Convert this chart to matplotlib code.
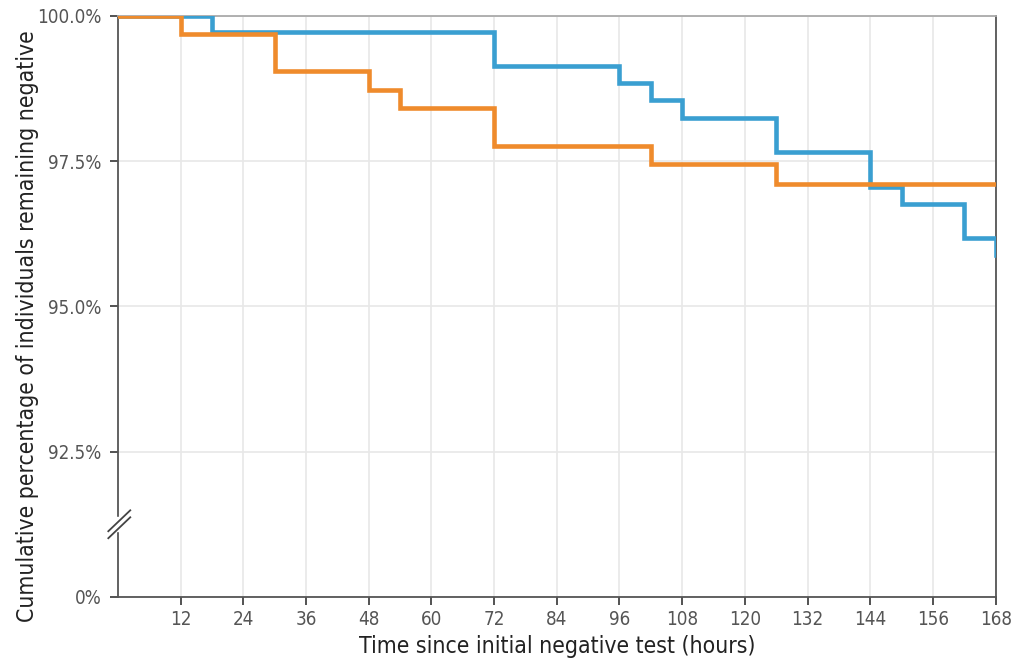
import numpy as np
import matplotlib
matplotlib.use('Agg')
import matplotlib.pyplot as plt

# Kaplan-Meier style step data (hours, % remaining negative)
blue_t = [0, 18, 72, 96, 102, 108, 126, 144, 150, 162, 168]
blue_y = [100.0, 99.72, 99.14, 98.84, 98.55, 98.24, 97.66, 97.05, 96.76, 96.17, 95.88]
orange_t = [0, 12, 30, 48, 54, 72, 102, 126, 168]
orange_y = [100.0, 99.69, 99.05, 98.72, 98.41, 97.76, 97.45, 97.10, 97.10]

x_ticks = [12, 24, 36, 48, 60, 72, 84, 96, 108, 120, 132, 144, 156, 168]
y_ticks = [0, 92.5, 95.0, 97.5, 100.0]
y_labels = ['0%', '92.5%', '95.0%', '97.5%', '100.0%']

BLUE = '#3a9fd1'
ORANGE = '#ef8b2c'
TXT = '#555555'


# broken y axis: 0 maps to 90, 92.5..100 linear
def fwd(y):
    y = np.asarray(y, dtype=float)
    return np.where(y >= 92.5, y, 90 + y * 2.5 / 92.5)


def inv(v):
    v = np.asarray(v, dtype=float)
    return np.where(v >= 92.5, v, (v - 90) * 92.5 / 2.5)


plt.rcParams['font.family'] = ['DejaVu Sans']
plt.rcParams['font.stretch'] = 'condensed'

fig = plt.figure(figsize=(10.17, 6.61), dpi=100)
ax = fig.add_axes([0.116, 0.097, 0.863, 0.879])
ax.set_yscale('function', functions=(fwd, inv))

ax.step(blue_t, blue_y, where='post', color=BLUE, lw=3.3, solid_joinstyle='miter', zorder=3)
ax.step(orange_t, orange_y, where='post', color=ORANGE, lw=3.3, solid_joinstyle='miter', zorder=4)

ax.set_xlim(0, 168)
ax.set_ylim(0, 100)
ax.set_xticks(x_ticks)
ax.set_yticks(y_ticks)
ax.set_yticklabels(y_labels)
ax.set_yticks([], minor=True)

ax.grid(True, color='#e8e8e8', lw=1.2, zorder=0)
ax.set_axisbelow(True)

for s in ['left', 'bottom', 'right']:
    ax.spines[s].set_color('#555555')
    ax.spines[s].set_linewidth(1.3)
ax.spines['top'].set_color('#aaaaaa')
ax.spines['top'].set_linewidth(1.3)

ax.tick_params(axis='both', direction='out', length=6, width=1.3, color='#444444',
               labelcolor=TXT, labelsize=13.5)
ax.tick_params(axis='y', pad=6)

ax.set_xlabel('Time since initial negative test (hours)', fontsize=16.5, color='#222222', labelpad=4)
ax.set_ylabel('Cumulative percentage of individuals remaining negative', fontsize=16.5,
              color='#222222')
ax.yaxis.set_label_coords(-0.09, 0.466)

# axis break marks
yb = 0.125
ax.add_patch(plt.Rectangle((-0.004, yb - 0.012), 0.008, 0.024, transform=ax.transAxes,
                           color='white', clip_on=False, zorder=5))
for off in (-0.006, 0.006):
    ax.plot([-0.011, 0.014], [yb - 0.018 + off, yb + 0.018 + off], transform=ax.transAxes,
            color='#444444', lw=1.3, clip_on=False, zorder=6)

fig.savefig('out.png', dpi=100)
